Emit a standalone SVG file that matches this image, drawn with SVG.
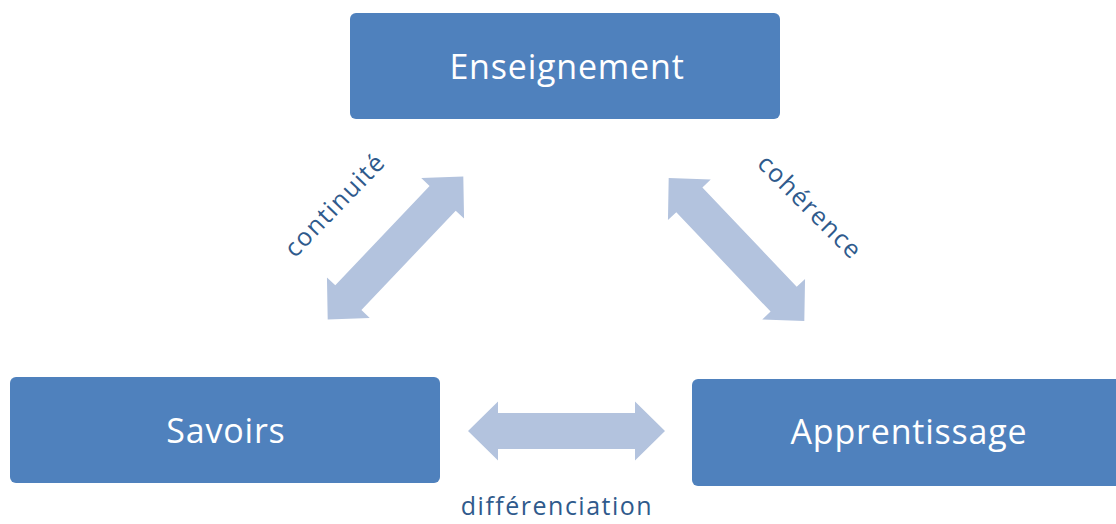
<svg xmlns="http://www.w3.org/2000/svg" width="1116" height="524" viewBox="0 0 1116 524">
<style>
.box{fill:#4F81BD;}
.nt{font-family:"Open Sans","Noto Sans",sans-serif;fill:#FFFFFF;font-size:34px;letter-spacing:0.8px;text-anchor:middle;}
.lbl{font-family:"Open Sans","Noto Sans",sans-serif;fill:#2F5A8C;font-size:25px;letter-spacing:1.5px;text-anchor:middle;}
.arr{fill:#B3C3DE;}
</style>
<defs>
<path id="dbl" d="M-98.5,0 L-68.5,-29.5 L-68.5,-18 L68.5,-18 L68.5,-29.5 L98.5,0 L68.5,29.5 L68.5,18 L-68.5,18 L-68.5,29.5 Z"/>
</defs>
<rect width="1116" height="524" fill="#FFFFFF"/>
<g id="connectors">
<use href="#dbl" class="arr" transform="translate(566.5,431)"/>
<use href="#dbl" class="arr" transform="translate(395.5,248) rotate(-46.5)"/>
<use href="#dbl" class="arr" transform="translate(736.5,249.5) rotate(46.5)"/>
<text class="lbl" x="557" y="515">différenciation</text>
<text class="lbl" transform="translate(341,211) rotate(-46)">continuité</text>
<text class="lbl" transform="translate(804,213) rotate(45)">cohérence</text>
</g>
<g id="enseignement">
<rect class="box" x="350" y="13" width="430" height="106" rx="6"/>
<text class="nt" x="567" y="79">Enseignement</text>
</g>
<g id="savoirs">
<rect class="box" x="10" y="377" width="430" height="106" rx="6"/>
<text class="nt" x="226" y="443">Savoirs</text>
</g>
<g id="apprentissage">
<rect class="box" x="692" y="379" width="430" height="107" rx="6"/>
<text class="nt" x="909" y="444">Apprentissage</text>
</g>
</svg>
